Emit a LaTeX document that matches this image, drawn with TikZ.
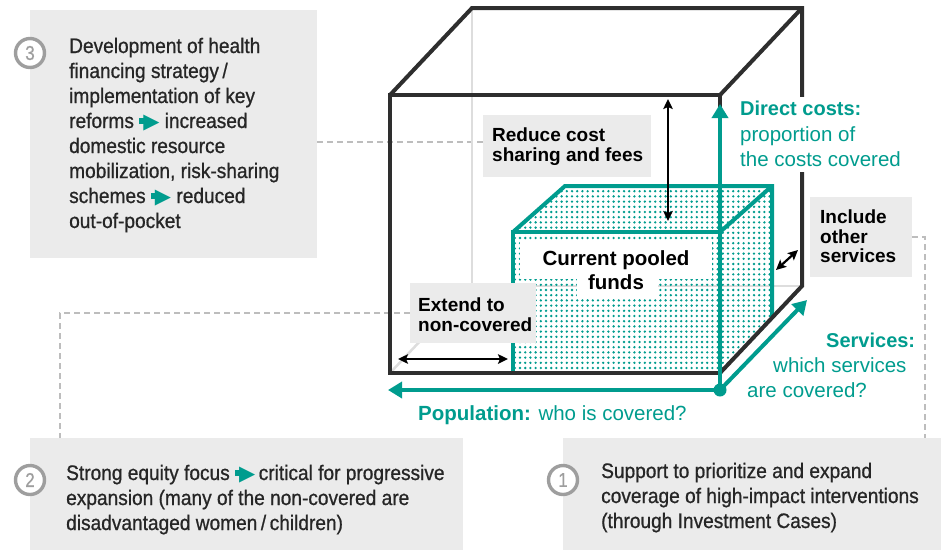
\documentclass[tikz,border=0pt]{standalone}
\usepackage{fontspec}
\setmainfont{Liberation Sans}
\newfontfamily\condfont[FakeStretch=0.91,FakeBold=0.8]{Liberation Sans}
\newfontfamily\numfont[FakeStretch=0.85,FakeBold=0.6]{Liberation Sans}
\newfontfamily\symfont{DejaVu Sans}
\usetikzlibrary{arrows.meta,patterns.meta}
\definecolor{tealc}{HTML}{009C8E}
\definecolor{boxgray}{HTML}{EBEBEB}
\definecolor{dashgray}{HTML}{BDBDBD}
\definecolor{hidgray}{HTML}{DDDDDD}
\definecolor{cubeblk}{HTML}{2E2E2E}
\definecolor{txtdark}{HTML}{262626}
\definecolor{numgray}{HTML}{9E9E9E}
\tikzdeclarepattern{
  name=tealdots,
  type=uncolored,
  bounding box={(-2.6pt,-2.6pt) and (2.6pt,2.6pt)},
  tile size={(5.2pt,5.2pt)},
  code={\fill (0pt,0pt) circle (1.3pt);}
}
\newcommand\tarrow{{\color{tealc}\rule[4pt]{5pt}{6.5pt}\kern-1pt{\symfont\fontsize{21}{21}\selectfont ▶}}}
\begin{document}
\begin{tikzpicture}[x=1pt,y=-1pt,
  gbox/.style={fill=boxgray, draw=none, inner sep=0pt, outer sep=0pt, anchor=north west},
  numc/.style={circle, draw=numgray, line width=3.4pt, fill=white, minimum size=29pt, inner sep=0pt, text=numgray, font=\numfont\fontsize{20}{20}\selectfont},
  body/.style={anchor=base west, inner sep=0pt, text=txtdark, font=\condfont\fontsize{21}{25}\selectfont},
  blab/.style={anchor=base west, inner sep=0pt, text=black, font=\bfseries\fontsize{19}{20}\selectfont},
  tbold/.style={anchor=base west, inner sep=0pt, text=tealc, font=\bfseries\fontsize{20}{24}\selectfont},
  treg/.style={anchor=base west, inner sep=0pt, text=tealc, font=\fontsize{20.5}{24}\selectfont},
  leader/.style={draw=dashgray, line width=2.5pt, dash pattern=on 6pt off 4pt},
  hid/.style={draw=hidgray, line width=2.5pt},
  cube/.style={draw=cubeblk, line width=4pt, line join=miter},
  tline/.style={draw=tealc, line width=4pt},
  tarr/.style={draw=tealc, line width=4pt, -{Triangle[length=14pt,width=16pt]}},
  barr/.style={draw=black, line width=2.2pt, {Stealth[length=10pt,width=9.5pt,inset=2pt]}-{Stealth[length=10pt,width=9.5pt,inset=2pt]}}
]
\useasboundingbox (0,0) rectangle (941,550);

% grey boxes
\node[gbox, minimum width=287pt, minimum height=248pt] (b3) at (30,10) {};
\node[gbox, minimum width=433pt, minimum height=112pt] (b2) at (30,438) {};
\node[gbox, minimum width=378pt, minimum height=112pt] (b1) at (563,438) {};

% label boxes (positions)
\node[gbox, minimum width=168pt, minimum height=62pt] (rd) at (483,115) {};
\node[gbox, minimum width=126pt, minimum height=60pt] (ex) at (410,283) {};
\node[gbox, minimum width=102pt, minimum height=80pt] (ic) at (810,197) {};

% leaders
\coordinate (ld3) at ([yshift=4pt]rd.west);
\draw[leader] (b3.east |- ld3) -- (ld3);
\draw[leader] (ex.west) -| ([xshift=30pt]b2.north west);
\draw[leader] (ic.east) -| ([xshift=-16pt]b1.north east);

% hidden edges
\draw[hid] (472,8) -- (472,286) -- (802,286);
\draw[hid] (390,373) -- (472,286);

% teal cube (current pooled funds)
\fill[pattern=tealdots, pattern color=tealc] (513,232) rectangle (720,373);
\fill[pattern=tealdots, pattern color=tealc] (513,232) -- (565,186) -- (772,186) -- (720,232) -- cycle;
\fill[pattern=tealdots, pattern color=tealc] (720,232) -- (772,186) -- (772,318) -- (720,373) -- cycle;
\fill[white] (520,240) rectangle (712,279);
\fill[white] (577,279) rectangle (658,297);
\draw[tline] (513,373) -- (513,232) -- (720,232) -- (720,373);
\draw[tline] (513,232) -- (565,186) -- (772,186) -- (772,318);
\draw[tline] (720,232) -- (772,186);

% big cube
\draw[cube] (390,95) rectangle (720,373);
\draw[cube] (390,95) -- (472,8) -- (802,8) -- (802,286) -- (720,373);
\draw[cube] (720,95) -- (802,8);

% teal axes
\node[circle, fill=tealc, minimum size=13pt, inner sep=0pt] (org) at (720,390) {};
\coordinate (popend) at (388,390);
\coordinate (dirend) at (720,104);
\coordinate (srvend) at (807,300);
\draw[tarr] (org.center) -- (popend);
\draw[tarr] (org.center) -- (dirend);
\draw[tarr] (org.center) -- (srvend);

% label box drawn on top of the cube
\node[gbox, minimum width=126pt, minimum height=60pt] (exf) at (410,283) {};

% black arrows
\coordinate (rc1) at (668,99);
\coordinate (rc2) at (668,221);
\draw[barr] (rc1) -- (rc2);
\coordinate (ex1) at (398,359);
\coordinate (ex2) at (508,359);
\draw[barr] (ex1) -- (ex2);
\coordinate (ic1) at (776,270);
\coordinate (ic2) at (798,250);
\draw[barr] (ic1) -- (ic2);

% number circles
\node[numc] (n3) at (30,53) {3};
\node[numc] (n2) at (30,480) {2};
\node[numc] (n1) at (563,480) {1};

% box 3 text
\node[body] (t31) at (69,53) {Development of health};
\node[body] (t32) at (69,78) {financing strategy\,/};
\node[body] (t33) at (69,103) {implementation of key};
\node[body] (t34) at (69,128) {reforms \tarrow\ increased};
\node[body] (t35) at (69,153) {domestic resource};
\node[body] (t36) at (69,178) {mobilization, risk-sharing};
\node[body] (t37) at (69,203) {schemes \tarrow\ reduced};
\node[body] (t38) at (69,228) {out-of-pocket};

% box 2 text
\node[body] (t21) at (66,480) {Strong equity focus \tarrow\,critical for progressive};
\node[body] (t22) at (66,505) {expansion (many of the non-covered are};
\node[body] (t23) at (66,530) {disadvantaged women\,/\,children)};

% box 1 text
\node[body] (t11) at (601,478) {Support to prioritize and expand};
\node[body] (t12) at (601,503) {coverage of high-impact interventions};
\node[body] (t13) at (601,528) {(through Investment Cases)};

% bold labels
\node[blab] (rdt1) at (492,141) {Reduce cost};
\node[blab] (rdt2) at (492,161) {sharing and fees};
\node[blab] (ext1) at (418,311) {Extend to};
\node[blab] (ext2) at (418,331) {non-covered};
\node[blab] (ict1) at (820,223) {Include};
\node[blab] (ict2) at (820,243) {other};
\node[blab] (ict3) at (820,262) {services};
\node[anchor=base, inner sep=0pt, font=\bfseries\fontsize{20.5}{24}\selectfont] (cp1) at (616,265) {Current pooled};
\node[anchor=base, inner sep=0pt, font=\bfseries\fontsize{20.5}{24}\selectfont] (cp2) at (616,289) {funds};

% teal labels
\fill[white] (735,97) rectangle (910,172);
\node[tbold] (dc1) at (740,115) {Direct costs:};
\node[treg] (dc2) at (740,141) {proportion of};
\node[treg] (dc3) at (740,166) {the costs covered};
\node[tbold] (sv1) at (826,347) {Services:};
\node[treg] (sv2) at (773,372) {which services};
\node[treg] (sv3) at (747,397) {are covered?};
\node[treg] (pop) at (418,420) {\textbf{Population:} who is covered?};
\end{tikzpicture}
\end{document}
